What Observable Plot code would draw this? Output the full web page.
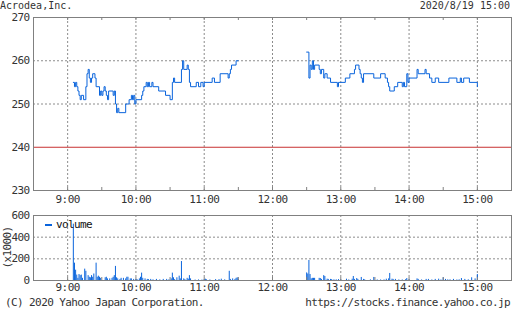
<!DOCTYPE html>
<html><head><meta charset="utf-8">
<script src="https://cdn.jsdelivr.net/npm/d3@7"></script>
<script src="https://cdn.jsdelivr.net/npm/@observablehq/plot@0.6"></script>
<style>
html,body{margin:0;padding:0;background:#fff;}
#root{position:relative;width:512px;height:310px;overflow:hidden;font-family:"DejaVu Sans Mono",monospace;font-size:11px;letter-spacing:-0.6px;color:#333;}
.t{position:absolute;white-space:pre;line-height:11px;}
#root svg{position:absolute;left:0;}
</style></head><body><div id="root"></div>
<script>
// ---- texts ----
const titleText = "Acrodea,Inc.";
const dateText = "2020/8/19 15:00";
const copyrightText = "(C) 2020 Yahoo Japan Corporation.";
const urlText = "https://stocks.finance.yahoo.co.jp";
const volumeLabel = "volume";
const volumeUnit = "(x1000)";

// ---- axis ticks ----
const priceTicks = [230, 240, 250, 260, 270];
const priceGrid = [250, 260];
const volTicks = [0, 200, 400, 600];
const volGrid = [200, 400];
const hourLabels = ["9:00", "10:00", "11:00", "12:00", "13:00", "14:00", "15:00"];
const prevClose = 240;

// ---- price (change points, step-after) ----
const amTimes = ["9:05","9:06","9:07","9:08","9:09","9:10","9:11","9:12","9:14","9:16","9:17","9:18","9:19","9:20","9:21","9:22","9:24","9:25","9:28","9:29","9:30","9:31","9:32","9:33","9:34","9:35","9:36","9:40","9:41","9:42","9:43","9:44","9:45","9:51","9:54","9:56","9:57","9:58","9:59","10:00","10:05","10:06","10:07","10:09","10:10","10:11","10:12","10:14","10:15","10:20","10:26","10:30","10:32","10:33","10:34","10:40","10:41","10:42","10:45","10:46","10:47","10:48","10:53","10:55","10:57","10:59","11:00","11:07","11:09","11:14","11:21","11:22","11:23","11:24","11:28","11:30"];
const amPrices = [255,254,255,254,253,252,251,252,251,254,257,258,256,255,256,257,256,254,252,253,252,253,254,253,252,251,253,252,253,250,248,249,248,250,251,252,251,252,250,251,252,253,254,255,254,255,254,255,254,253,252,251,255,256,255,258,260,258,259,258,255,254,255,254,255,254,255,256,255,257,256,257,258,259,260,260];
const pmTimes = ["12:30","12:32","12:33","12:34","12:35","12:36","12:37","12:41","12:42","12:43","12:45","12:46","12:48","12:51","12:57","12:58","13:04","13:08","13:12","13:13","13:16","13:17","13:18","13:19","13:20","13:29","13:35","13:39","13:41","13:42","13:43","13:47","13:50","13:54","13:55","13:56","13:58","13:59","14:00","14:07","14:08","14:14","14:15","14:18","14:20","14:23","14:26","14:35","14:42","14:45","14:46","14:48","14:53","15:00"];
const pmPrices = [262,256,259,258,260,258,259,258,257,258,256,257,256,255,254,255,256,257,258,259,258,257,256,255,257,256,257,256,255,254,253,254,255,254,255,254,257,255,256,258,257,258,257,256,255,256,255,256,255,256,255,256,255,254];

// ---- volume (x1000 shares, per minute) ----
const volTimes = ["9:05","9:06","9:07","9:08","9:09","9:10","9:11","9:12","9:13","9:15","9:16","9:18","9:19","9:20","9:21","9:22","9:23","9:25","9:26","9:27","9:28","9:29","9:33","9:34","9:35","9:37","9:39","9:40","9:41","9:42","9:43","9:44","9:46","9:47","9:49","9:51","9:52","9:53","9:55","9:56","9:58","10:00","10:01","10:03","10:04","10:05","10:06","10:08","10:10","10:11","10:13","10:15","10:18","10:21","10:24","10:27","10:29","10:31","10:32","10:33","10:34","10:36","10:38","10:39","10:40","10:42","10:43","10:45","10:46","10:47","10:48","10:52","10:55","10:58","11:00","11:01","11:02","11:05","11:10","11:13","11:15","11:18","11:22","11:23","11:25","11:27","11:28","11:29","11:30",
"12:30","12:31","12:32","12:33","12:34","12:35","12:36","12:37","12:41","12:42","12:43","12:45","12:46","12:48","12:49","12:51","12:52","12:54","12:56","12:58","13:00","13:05","13:07","13:10","13:11","13:12","13:14","13:15","13:18","13:20","13:21","13:26","13:29","13:32","13:35","13:38","13:40","13:42","13:43","13:45","13:46","13:48","13:51","13:54","13:57","13:58","14:00","14:07","14:08","14:11","14:15","14:17","14:20","14:23","14:26","14:28","14:30","14:32","14:34","14:36","14:39","14:42","14:44","14:46","14:49","14:52","14:55","14:58","15:00"];
const volValues = [520,160,95,50,20,55,45,50,20,105,85,45,30,25,45,30,60,160,30,40,30,20,25,30,15,15,20,30,45,130,25,15,10,20,20,15,30,30,15,15,10,10,8,15,30,68,20,15,10,8,10,6,10,6,10,10,6,15,68,25,8,25,40,15,175,15,8,20,12,45,15,4,5,4,6,12,6,5,8,8,12,6,85,10,15,10,20,25,10,
70,60,185,55,15,20,20,20,20,18,10,45,37,12,10,10,8,6,6,8,5,12,5,12,37,10,18,10,28,10,6,6,28,5,5,5,12,15,65,12,10,10,5,5,8,18,5,15,10,5,10,10,5,10,12,5,25,10,6,6,10,5,6,18,10,6,25,15,55];

// ---- build ----
const T = s => { const [h, m] = s.split(":").map(Number); return new Date(Date.UTC(2020, 7, 19, h, m)); };
const priceRows = [
  ...amTimes.map((t, i) => ({t: T(t), v: amPrices[i], s: "am"})),
  ...pmTimes.map((t, i) => ({t: T(t), v: pmPrices[i], s: "pm"}))
];
const volRows = volTimes.map((t, i) => ({t: T(t), v: volValues[i]}));
const hours = hourLabels.map(T);
const halfHours = d3.utcMinute.every(30).range(T("9:00"), T("15:01"));
const xDomain = [T("8:30"), T("15:30")];
const fmt = d3.utcFormat("%-H:%M");

const BLUE = "#0a64dc", FRAME = "#808080", GRID = "#8c8c8c";
const style = {fontFamily: "'DejaVu Sans Mono', monospace", fontSize: "11px", letterSpacing: "-0.6px", color: "#333", background: "transparent", overflow: "visible"};
const dash = {stroke: GRID, strokeOpacity: 1, strokeDasharray: "2,2"};

const p1 = Plot.plot({
  width: 512, height: 207,
  marginLeft: 33, marginRight: 1, marginTop: 17, marginBottom: 17,
  style,
  x: {type: "utc", domain: xDomain, label: null},
  y: {domain: [230, 270], label: null},
  marks: [
    Plot.gridX(hours, dash),
    Plot.gridY(priceGrid, dash),
    Plot.ruleY([prevClose], {stroke: "#c83232"}),
    Plot.ruleX(halfHours, {stroke: FRAME, insetTop: 170}),
    Plot.ruleX(halfHours, {stroke: FRAME, insetBottom: 170}),
    Plot.frame({stroke: FRAME}),
    Plot.line(priceRows, {x: "t", y: "v", z: "s", curve: "step-after", stroke: BLUE, strokeWidth: 1}),
    Plot.axisY(priceTicks, {tickSize: 0, tickPadding: 4, label: null}),
    Plot.axisX(hours, {tickSize: 0, tickPadding: 5, tickFormat: fmt, label: null})
  ]
});
p1.style.top = "0px";

const p2 = Plot.plot({
  width: 512, height: 103,
  marginLeft: 33, marginRight: 1, marginTop: 8, marginBottom: 30,
  style,
  x: {type: "utc", domain: xDomain, label: null},
  y: {domain: [0, 600], label: null},
  marks: [
    Plot.gridX(hours, dash),
    Plot.gridY(volGrid, dash),
    Plot.ruleX(volRows, {x: "t", y: "v", stroke: BLUE, strokeWidth: 1}),
    Plot.ruleX(halfHours, {stroke: FRAME, insetTop: 62}),
    Plot.frame({stroke: FRAME}),
    Plot.axisY(volTicks, {tickSize: 0, tickPadding: 4, label: null}),
    Plot.axisX(hours, {tickSize: 0, tickPadding: 3, tickFormat: fmt, label: null})
  ]
});
p2.style.top = "207px";

const root = document.getElementById("root");
root.append(p1, p2);

function addText(txt, css) {
  const d = document.createElement("div");
  d.className = "t";
  d.textContent = txt;
  Object.assign(d.style, css);
  root.append(d);
  return d;
}
const head = {top: "1px", lineHeight: "10px", fontSize: "10px", letterSpacing: "0px"};
addText(titleText, {left: "0px", ...head});
addText(dateText, {right: "2px", ...head});
addText(copyrightText, {left: "5px", top: "297px"});
addText(urlText, {right: "2px", top: "297px"});
addText(volumeLabel, {left: "56px", top: "219px", color: "#111"});
const sw = document.createElement("div");
Object.assign(sw.style, {position: "absolute", left: "45px", top: "224px", width: "7px", height: "2px", background: BLUE});
root.append(sw);
addText(volumeUnit, {left: "-14px", top: "242px", transform: "rotate(-90deg)"});
</script>
</body></html>
